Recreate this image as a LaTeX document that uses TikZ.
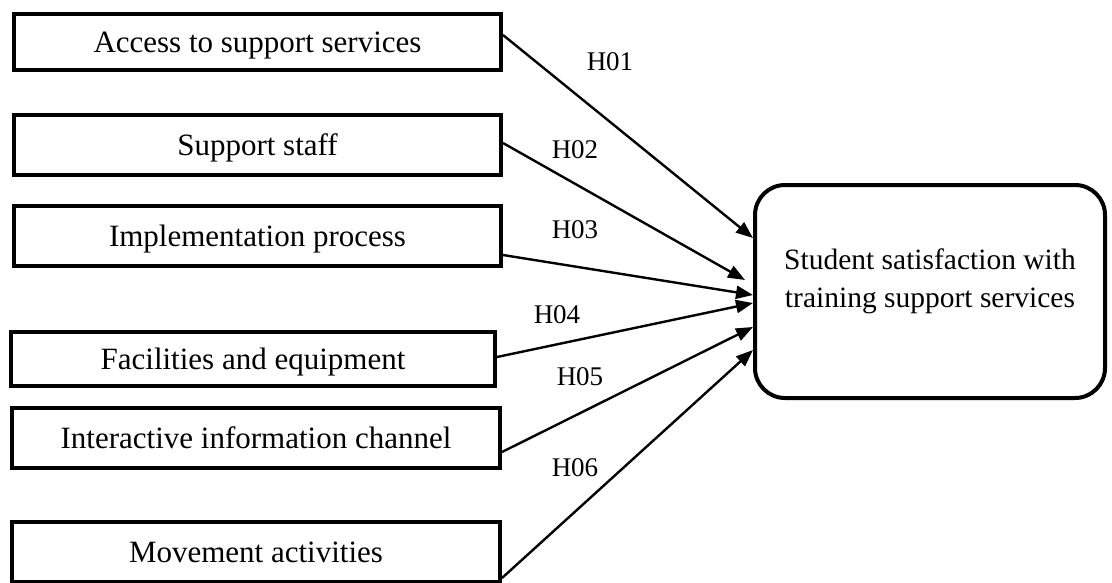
\documentclass[tikz,border=0pt]{standalone}
\usepackage{fontspec}
\setmainfont{Liberation Serif}
\usetikzlibrary{arrows.meta}

\begin{document}
\begin{tikzpicture}[x=1pt, y=1pt,
    factor/.style={draw, line width=4pt, inner sep=0pt, minimum height=60pt,
        text depth=0pt, font=\fontsize{31}{37}\selectfont},
    outcome/.style={draw, line width=4pt, rounded corners=30pt, align=center,
        minimum width=350pt, minimum height=213pt, text depth=26pt,
        font=\fontsize{29.5}{38}\selectfont},
    hyp/.style={-{Triangle[length=17pt,width=13pt]}, line width=2.4pt},
    hlabel/.style={font=\fontsize{27}{32}\selectfont}]
    \useasboundingbox (0,0) rectangle (1112,-582);
    % independent factors
    \node[factor, minimum width=487pt, minimum height=56pt] (acc) at (257.5,-42) {Access to support services};
    \node[factor, minimum width=487pt] (staff) at (257.5,-145) {Support staff};
    \node[factor, minimum width=487pt] (impl) at (257.5,-236) {Implementation process};
    \node[factor, minimum width=484pt, minimum height=54pt] (fac) at (253,-359) {Facilities and equipment};
    \node[factor, minimum width=488pt] (inter) at (256,-438) {Interactive information channel};
    \node[factor, minimum width=488pt] (move) at (256,-552) {Movement activities};
    % dependent variable
    \node[outcome] (sat) at (930,-291.5) {Student satisfaction with\\training support services};
    % hypotheses
    \draw[hyp] ([yshift=7pt]acc.east) -- ([yshift=53.5pt]sat.west);
    \draw[hyp] ([yshift=2pt]staff.east) -- ([xshift=-8pt,yshift=11.5pt]sat.west);
    \draw[hyp] ([yshift=-19pt]impl.east) -- ([yshift=-3.5pt]sat.west);
    \draw[hyp] ([yshift=2pt]fac.east) -- ([yshift=-11.5pt]sat.west);
    \draw[hyp] ([yshift=-14pt]inter.east) -- ([yshift=-35.5pt]sat.west);
    \draw[hyp] ([yshift=-26pt]move.east) -- ([yshift=-58.5pt]sat.west);
    \node[hlabel] (h01) at (610,-62) {H01};
    \node[hlabel] (h02) at (575,-150) {H02};
    \node[hlabel] (h03) at (575,-230) {H03};
    \node[hlabel] (h04) at (557,-315) {H04};
    \node[hlabel] (h05) at (580,-377) {H05};
    \node[hlabel] (h06) at (575,-468) {H06};
\end{tikzpicture}
\end{document}
